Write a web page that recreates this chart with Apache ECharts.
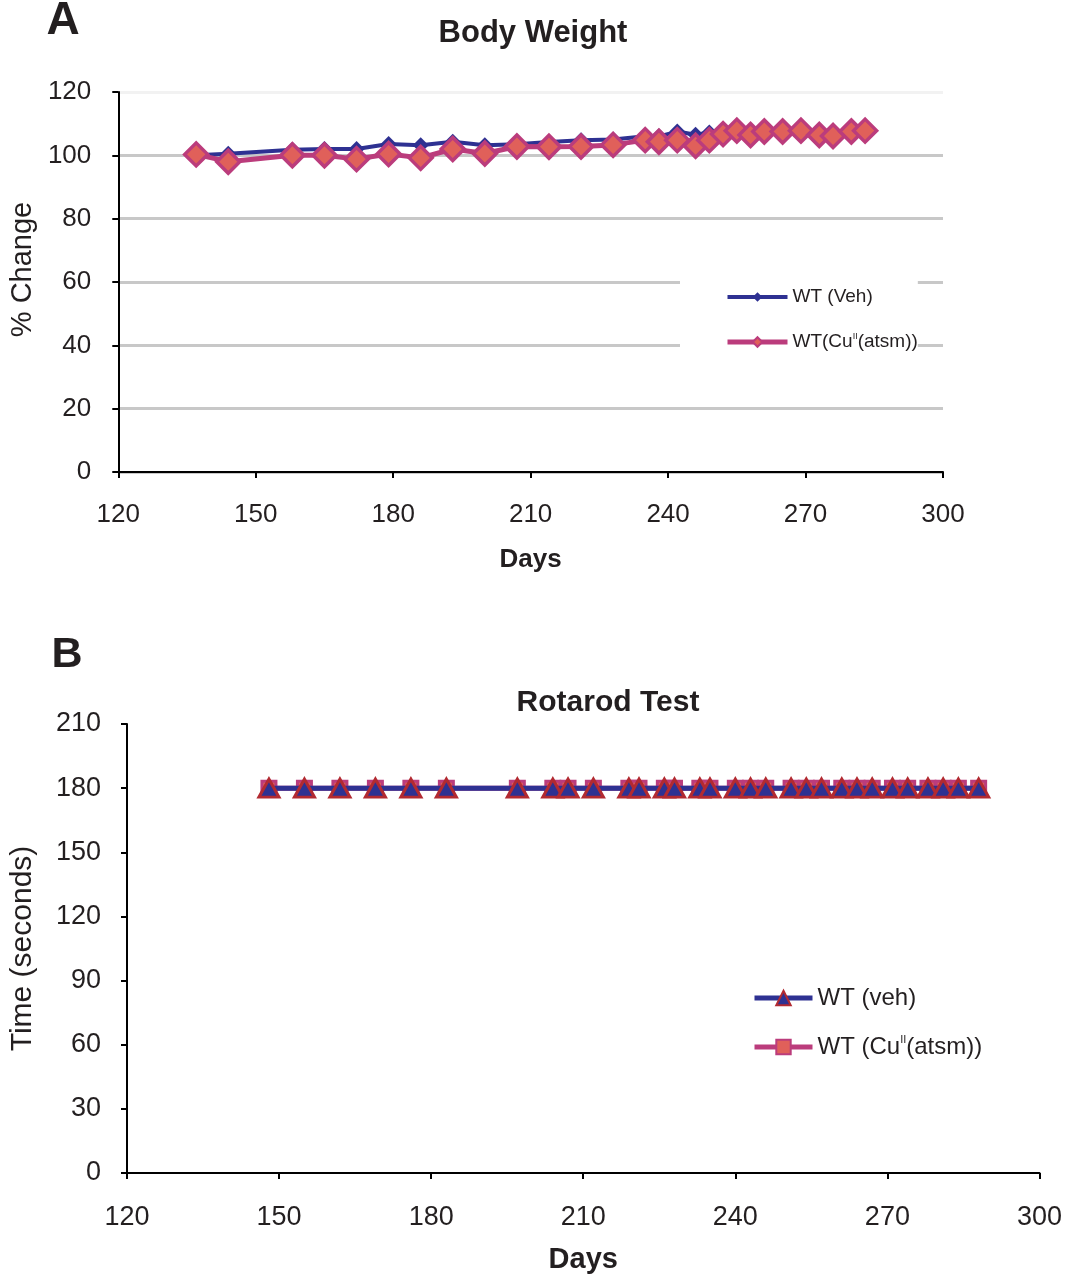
<!DOCTYPE html>
<html>
<head>
<meta charset="utf-8">
<script src="https://cdn.jsdelivr.net/npm/echarts@6/dist/echarts.min.js"></script>
<style>
html,body{margin:0;padding:0;background:#fff;}
#chart{width:1065px;height:1277px;}
</style>
</head>
<body>
<div id="chart"></div>
<script>
// ---- Panel A: Body Weight (% change) ----
var bwDays = [137,144,158,165,172,179,186,193,200,207,214,221,228,235,238,242,246,249,252,255,258,261,265,269,273,276,280,283];
var bwVeh  = [100.0,100.5,101.8,102.0,102.0,103.6,103.2,104.3,103.2,103.5,104.2,104.8,105.0,106.0,106.0,107.5,106.5,107.2,107.0,107.0,106.5,106.8,106.8,107.0,106.5,106.3,106.8,107.2];
var bwCu   = [100.3,98.0,100.0,100.0,98.8,100.4,99.2,102.0,100.6,102.8,102.7,102.8,103.3,104.8,104.3,104.8,103.0,104.8,106.7,107.8,106.4,107.5,107.5,107.8,106.4,106.1,107.5,107.8];

// ---- Panel B: Rotarod test (seconds) ----
var rrDays = [148,155,162,169,176,183,197,204,207,212,219,221,226,228,233,235,240,243,246,251,254,257,261,264,267,271,274,278,281,284,288];
var rrVeh  = [180,180,180,180,180,180,180,180,180,180,180,180,180,180,180,180,180,180,180,180,180,180,180,180,180,180,180,180,180,180,180];
var rrCu   = [180,180,180,180,180,180,180,180,180,180,180,180,180,180,180,180,180,180,180,180,180,180,180,180,180,180,180,180,180,180,180];

var xTicksA = {min:120, max:300, interval:30};
var yTicksA = {min:0, max:120, interval:20};
var yTicksB = {min:0, max:210, interval:30};

function pairs(xs, ys){ return xs.map(function(x,i){ return [x, ys[i]]; }); }

var FONT = 'Liberation Sans, Arial, sans-serif';
var NAVY = '#2e3192';
var PINK = '#bb3c7c';
var SALMON = '#e0605a';
var RED = '#b22a31';
var TXT = '#231f20';

function legendFormatter(name){
  return name.replace('CuII', 'Cu{sup|II}');
}

var chart = echarts.init(document.getElementById('chart'));
var option = {
  animation: false,
  backgroundColor: '#fff',
  textStyle: {fontFamily: FONT},
  graphic: [
    {type:'text', x:63, y:21, style:{text:'A', font:'bold 46px ' + FONT, fill:TXT, textAlign:'center', textVerticalAlign:'middle'}},
    {type:'text', x:67, y:655, style:{text:'B', font:'bold 43px ' + FONT, fill:TXT, textAlign:'center', textVerticalAlign:'middle'}},
    {type:'text', x:533, y:33, style:{text:'Body Weight', font:'bold 31px ' + FONT, fill:TXT, textAlign:'center', textVerticalAlign:'middle'}},
    {type:'text', x:608, y:703, style:{text:'Rotarod Test', font:'bold 30px ' + FONT, fill:TXT, textAlign:'center', textVerticalAlign:'middle'}}
  ],
  legend: [
    {
      data: ['WT (Veh)', 'WT(CuII(atsm))'],
      orient: 'vertical',
      left: 680, top: 272,
      padding: [15, 0, 15, 45],
      backgroundColor: '#fff',
      itemWidth: 60, itemHeight: 12, itemGap: 25,
      lineStyle: {width: 'inherit'},
      formatter: legendFormatter,
      textStyle: {fontSize: 19, color: TXT, fontFamily: FONT, lineHeight: 20,
        rich: {sup: {fontSize: 9, color: TXT, verticalAlign: 'top', lineHeight: 20}}}
    },
    {
      data: ['WT (veh)', 'WT (CuII(atsm))'],
      orient: 'vertical',
      left: 752, top: 985,
      padding: 0,
      itemWidth: 58, itemHeight: 18, itemGap: 23,
      lineStyle: {width: 'inherit'},
      formatter: legendFormatter,
      textStyle: {fontSize: 24, color: TXT, fontFamily: FONT, lineHeight: 26,
        rich: {sup: {fontSize: 11, color: TXT, verticalAlign: 'top', lineHeight: 26}}}
    }
  ],
  grid: [
    {left: 114, right: 122, top: 92, height: 380, containLabel: false},
    {left: 123, right: 24, top: 724, height: 449, containLabel: false}
  ],
  xAxis: [
    {
      gridIndex: 0, type: 'value', min: xTicksA.min, max: xTicksA.max, interval: xTicksA.interval,
      name: 'Days', nameLocation: 'middle', nameGap: 75,
      nameTextStyle: {fontSize: 26, fontWeight: 'bold', color: TXT, fontFamily: FONT},
      axisLine: {show: true, lineStyle: {color: '#000', width: 2}},
      axisTick: {show: true, inside: false, length: 6, lineStyle: {color: '#000', width: 2}},
      axisLabel: {fontSize: 26, color: TXT, margin: 30, fontFamily: FONT},
      splitLine: {show: false}
    },
    {
      gridIndex: 1, type: 'value', min: xTicksA.min, max: xTicksA.max, interval: xTicksA.interval,
      name: 'Days', nameLocation: 'middle', nameGap: 72,
      nameTextStyle: {fontSize: 29, fontWeight: 'bold', color: TXT, fontFamily: FONT},
      axisLine: {show: true, lineStyle: {color: '#000', width: 2}},
      axisTick: {show: true, inside: false, length: 6, lineStyle: {color: '#000', width: 2}},
      axisLabel: {fontSize: 27, color: TXT, margin: 31, fontFamily: FONT},
      splitLine: {show: false}
    }
  ],
  yAxis: [
    {
      gridIndex: 0, type: 'value', min: yTicksA.min, max: yTicksA.max, interval: yTicksA.interval,
      name: '% Change', nameLocation: 'middle', nameGap: 78, nameRotate: 90,
      nameTextStyle: {fontSize: 29, color: TXT, fontFamily: FONT, padding: [0, 0, 0, 25]},
      axisLine: {show: true, lineStyle: {color: '#000', width: 2}},
      axisTick: {show: true, inside: false, length: 6, lineStyle: {color: '#000', width: 2}},
      axisLabel: {fontSize: 26, color: TXT, margin: 27, fontFamily: FONT},
      splitLine: {show: true, lineStyle: {color: ['#c8c8c8','#c8c8c8','#c8c8c8','#c8c8c8','#c8c8c8','#c8c8c8','#f2f2f2'], width: 3}}
    },
    {
      gridIndex: 1, type: 'value', min: yTicksB.min, max: yTicksB.max, interval: yTicksB.interval,
      name: 'Time (seconds)', nameLocation: 'middle', nameGap: 89,
      nameTextStyle: {fontSize: 30, color: TXT, fontFamily: FONT},
      axisLine: {show: true, lineStyle: {color: '#000', width: 2}},
      axisTick: {show: true, inside: false, length: 6, lineStyle: {color: '#000', width: 2}},
      axisLabel: {fontSize: 27, color: TXT, margin: 26, fontFamily: FONT},
      splitLine: {show: false}
    }
  ],
  series: [
    {
      name: 'WT (Veh)', type: 'line', xAxisIndex: 0, yAxisIndex: 0, z: 2,
      data: pairs(bwDays, bwVeh),
      symbol: 'diamond', symbolSize: 16,
      lineStyle: {color: NAVY, width: 4},
      itemStyle: {color: NAVY}
    },
    {
      name: 'WT(CuII(atsm))', type: 'line', xAxisIndex: 0, yAxisIndex: 0, z: 3,
      data: pairs(bwDays, bwCu),
      symbol: 'diamond', symbolSize: 23,
      lineStyle: {color: PINK, width: 5},
      itemStyle: {color: SALMON, borderColor: PINK, borderWidth: 3.5}
    },
    {
      name: 'WT (CuII(atsm))', type: 'line', xAxisIndex: 1, yAxisIndex: 1, z: 2,
      data: pairs(rrDays, rrCu),
      symbol: 'rect', symbolSize: 14,
      lineStyle: {color: PINK, width: 5},
      itemStyle: {color: SALMON, borderColor: PINK, borderWidth: 3}
    },
    {
      name: 'WT (veh)', type: 'line', xAxisIndex: 1, yAxisIndex: 1, z: 3,
      data: pairs(rrDays, rrVeh),
      symbol: 'triangle', symbolSize: [20, 18],
      lineStyle: {color: NAVY, width: 5},
      itemStyle: {color: NAVY, borderColor: RED, borderWidth: 3}
    }
  ]
};
chart.setOption(option);
</script>
</body>
</html>
